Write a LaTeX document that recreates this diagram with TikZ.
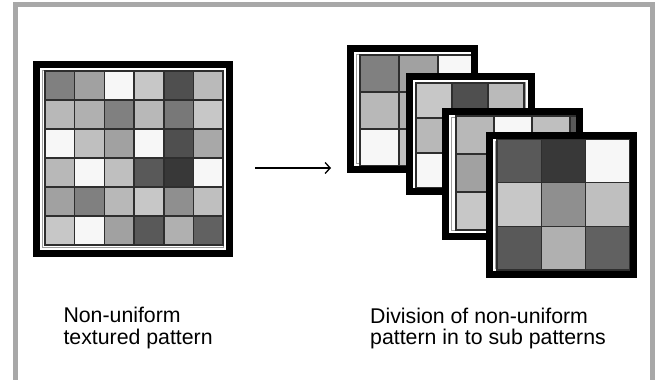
\documentclass[tikz,border=0pt]{standalone}
\usepackage{fontspec}
\setmainfont{Liberation Sans}
\usetikzlibrary{arrows.meta}

\tikzset{
  frameline/.style={draw=black!38, line width=1pt},
  cellline/.style={draw=black!82, line width=1.5pt},
  caption/.style={anchor=north west, inner sep=0pt, align=left,
    font=\fontsize{21.3}{21.2}\selectfont},
  border/.style={draw=black!34, line width=5pt, line join=miter},
  flow/.style={draw=black, line width=1.3pt,
    -{Straight Barb[length=5pt,width=11pt]}},
}

% grey levels (percent black) of the 6x6 textured pattern, row by row
\def\tone{{50,37,3,22,69,27,
           28,31,50,28,53,22,
           3,25,37,3,69,34,
           28,3,25,65,78,3,
           37,50,28,22,44,25,
           22,3,37,65,31,62}}

% thick black frame with a thin grey inner rule: x1,y1,x2,y2
\newcommand\tileframe[4]{%
  \fill[black] (#1,#2) rectangle (#3,#4);
  \fill[white] ({#1+7},{#2+7}) rectangle ({#3-7},{#4-7});
  \draw[frameline] ({#1+9.5},{#2+9.5}) rectangle ({#3-9.5},{#4-9.5});
}

% cells: x0,y0,cell width,cell height,first row,first column,rows,columns
\newcommand\tilecells[8]{%
  \foreach \i in {1,...,#7}{
    \foreach \j in {1,...,#8}{
      \pgfmathtruncatemacro\tileidx{(#5+\i-1)*6+#6+\j-1}
      \pgfmathtruncatemacro\tileshade{\tone[\tileidx]}
      \filldraw[cellline, fill=black!\tileshade]
        ({#1+(\j-1)*#3},{#2+(\i-1)*#4}) rectangle ++(#3,#4);
    }
  }
}

% framed tile with cells clipped to the frame opening
\newcommand\subtile[5]{%
  \tileframe{#1}{#2}{#3}{#4}
  \begin{scope}
    \clip ({#1+7},{#2+7}) rectangle ({#3-7},{#4-7});
    #5
  \end{scope}
  \draw[black, line width=7pt] ({#1+3.5},{#2+3.5}) rectangle ({#3-3.5},{#4-3.5});
}

\begin{document}
\begin{tikzpicture}[x=1pt, y=-1pt]
  \useasboundingbox (0,0) rectangle (656,380);
  \fill[white] (0,0) rectangle (656,380);

  % outer border, open at the bottom
  \draw[border] (15.2,380) -- (15.2,4.6) -- (652.5,4.6) -- (652.5,380);

  % full textured pattern
  \subtile{33}{61}{233}{257}{\tilecells{45}{71}{29.7}{29}{0}{0}{6}{6}}

  % the four sub patterns, back to front
  \subtile{347}{45}{478}{173}{\tilecells{360}{55}{39}{37}{0}{0}{3}{3}}
  \subtile{406}{73}{535}{195}{\tilecells{416}{83}{36}{35}{0}{3}{3}{3}}
  \subtile{442}{108}{583}{240}{\tilecells{456}{116}{38}{38}{3}{0}{3}{4}}
  \subtile{486}{132}{637}{278}{\tilecells{497}{139}{44.3}{43.7}{3}{3}{3}{3}}

  % arrow between the two parts
  \coordinate (arrowtail) at (255,168);
  \coordinate (arrowtip) at (331,168);
  \draw[flow] (arrowtail) -- (arrowtip);

  % captions
  \node[caption] (leftcaption) at (63.3,307.3) {Non-uniform\\textured pattern};
  \node[caption] (rightcaption) at (370,308) {Division of non-uniform\\pattern in to sub patterns};
\end{tikzpicture}
\end{document}
